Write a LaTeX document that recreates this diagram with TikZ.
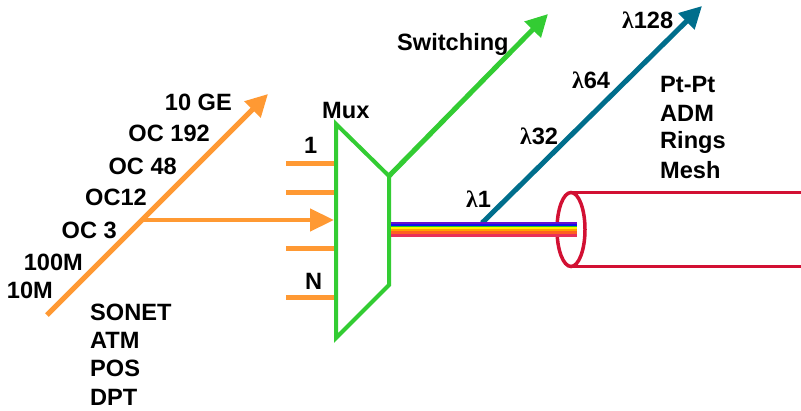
\documentclass[tikz,border=0pt]{standalone}
\usepackage{fontspec}
\setmainfont{Liberation Sans}
\newfontfamily\lamfont{Liberation Serif}
\usetikzlibrary{arrows.meta}
\definecolor{orng}{RGB}{255,153,51}
\definecolor{grn}{RGB}{51,204,51}
\definecolor{tealb}{RGB}{0,110,140}
\definecolor{crim}{RGB}{210,16,51}
\definecolor{fpurple}{RGB}{106,13,204}
\definecolor{fblue}{RGB}{16,16,240}
\definecolor{fgreen}{RGB}{34,204,34}
\definecolor{fyellow}{RGB}{255,240,0}
\definecolor{forange}{RGB}{255,160,0}
\definecolor{fored}{RGB}{255,96,32}
\definecolor{fpink}{RGB}{232,48,90}
\newcommand{\lam}{{\lamfont\bfseries λ}}
\begin{document}
\begin{tikzpicture}[x=1pt,y=-1pt,
  lbl/.style={inner sep=0pt, font=\fontsize{23.6}{28}\selectfont\bfseries},
  bighead/.style={-{Triangle[length=22pt,width=22pt]}},
  orangeline/.style={draw=orng, line width=5pt},
  stub/.style={draw=orng, line width=5pt},
  greenline/.style={draw=grn, line width=4pt},
  tealline/.style={draw=tealb, line width=5pt},
  cableline/.style={draw=crim, line width=3.5pt},
]
\useasboundingbox (0,0) rectangle (801,410);

% orange rate arrow
\coordinate (o0) at (47,315);
\coordinate (o1) at (268,94);
\coordinate (br) at (142,220);
\draw[orangeline, bighead] (o0) -- (o1);

% mux
\coordinate (m1) at (336,124);
\coordinate (m2) at (389,176);
\coordinate (m3) at (389,285);
\coordinate (m4) at (336,338);
\coordinate (mi) at (334,220);

% stubs
\foreach \y [count=\i] in {163,192,248,297}{
  \coordinate (s\i) at (286,\y);
  \coordinate (t\i) at (334,\y);
  \draw[stub] (s\i) -- (t\i);
}
\draw[orangeline, line width=4.5pt, -{Triangle[length=24pt,width=22pt]}] (br) -- (mi);

% switching arrow
\coordinate (g1) at (548,14);
\draw[greenline, line width=5pt, bighead] (m2) -- (g1);
\draw[greenline, line join=miter] (m1) -- (m2) -- (m3) -- (m4) -- cycle;

% cable
\coordinate (c0) at (571,229.5);
\coordinate (ct) at (571,192.5);
\coordinate (cb) at (571,266.5);
\coordinate (ctr) at (801,192.5);
\coordinate (cbr) at (801,266.5);
\draw[cableline] (ct) -- (ctr);
\draw[cableline] (cb) -- (cbr);
\draw[cableline] (c0) ellipse (14 and 37);

% wavelength arrow
\coordinate (w0) at (482,223);
\coordinate (w1) at (702,6);
\draw[tealline, bighead] (w0) -- (w1);

% rainbow fiber
\fill[fpurple] (391,222) rectangle (577,224.3);
\fill[fblue]   (391,224.3) rectangle (577,226.2);
\fill[fgreen]  (391,226.2) rectangle (577,227.2);
\fill[fyellow] (391,227.2) rectangle (577,229.2);
\fill[forange] (391,229.2) rectangle (577,231.2);
\fill[fored]   (391,231.2) rectangle (577,233.5);
\fill[fpink]   (391,233.5) rectangle (577,236.8);

% left labels
\node[lbl, anchor=base east] (l10ge) at (232,110.5) {10 GE};
\node[lbl, anchor=base east] (loc192) at (210,141.5) {OC 192};
\node[lbl, anchor=base east] (loc48) at (177,174.5) {OC 48};
\node[lbl, anchor=base east] (loc12) at (147,205.5) {OC12};
\node[lbl, anchor=base east] (loc3) at (117,238.5) {OC 3};
\node[lbl, anchor=base east] (l100m) at (83,270.5) {100M};
\node[lbl, anchor=base east] (l10m) at (53,298.5) {10M};
\node[lbl, anchor=base west] (lsonet) at (90,320.5) {SONET};
\node[lbl, anchor=base west] (latm) at (90,348.5) {ATM};
\node[lbl, anchor=base west] (lpos) at (90,376.5) {POS};
\node[lbl, anchor=base west] (ldpt) at (90,405.5) {DPT};

% mux labels
\node[lbl, anchor=base west] (lmux) at (322,118.5) {Mux};
\node[lbl, anchor=base west] (lone) at (304,153) {1};
\node[lbl, anchor=base west] (lN) at (305,289) {N};
\node[lbl, anchor=base west] (lsw) at (397,50) {Switching};

% wavelength labels
\node[lbl, anchor=base west] (la1) at (466,207) {\lam1};
\node[lbl, anchor=base west] (la32) at (520,144) {\lam32};
\node[lbl, anchor=base west] (la64) at (572,88) {\lam64};
\node[lbl, anchor=base west] (la128) at (622,28) {\lam128};

% topology labels
\node[lbl, anchor=base west] (lpt) at (660,92) {Pt-Pt};
\node[lbl, anchor=base west] (ladm) at (660,121) {ADM};
\node[lbl, anchor=base west] (lrings) at (660,148) {Rings};
\node[lbl, anchor=base west] (lmesh) at (660,178) {Mesh};
\end{tikzpicture}
\end{document}
